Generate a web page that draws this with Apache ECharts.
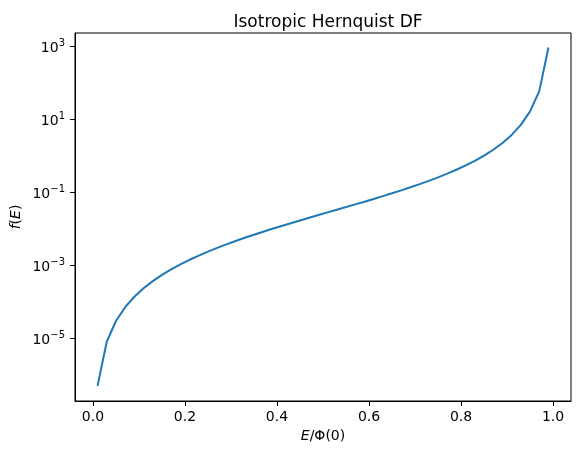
<!DOCTYPE html>
<html>
<head>
<meta charset="utf-8">
<script src="https://cdn.jsdelivr.net/npm/echarts@6/dist/echarts.min.js"></script>
<style>
  html, body { margin: 0; padding: 0; background: #fff; }
  #chart { width: 580px; height: 457px; }
</style>
</head>
<body>
<div id="chart"></div>
<script>
// E / Phi(0)
const energy = [
  0.01, 0.03, 0.05, 0.07, 0.09, 0.11, 0.13, 0.15, 0.17, 0.19,
  0.21, 0.23, 0.25, 0.27, 0.29, 0.31, 0.33, 0.35, 0.37, 0.39,
  0.41, 0.43, 0.45, 0.47, 0.49, 0.51, 0.53, 0.55, 0.57, 0.59,
  0.61, 0.63, 0.65, 0.67, 0.69, 0.71, 0.73, 0.75, 0.77, 0.79,
  0.81, 0.83, 0.85, 0.87, 0.89, 0.91, 0.93, 0.95, 0.97, 0.99
];
// f(E)
const dfValues = [
  5.0e-7, 8.04e-6, 2.97e-5, 7.10e-5, 1.374e-4, 2.344e-4, 3.68e-4, 5.447e-4, 7.72e-4, 1.057e-3,
  1.41e-3, 1.841e-3, 2.36e-3, 2.982e-3, 3.724e-3, 4.599e-3, 5.63e-3, 6.844e-3, 8.267e-3, 9.93e-3,
  0.01188, 0.01416, 0.01682, 0.01995, 0.02361, 0.02793, 0.03304, 0.03909, 0.04628, 0.05487,
  0.06529, 0.0778, 0.09318, 0.1121, 0.1358, 0.1656, 0.2039, 0.2539, 0.3203, 0.4108,
  0.5376, 0.7216, 1.0007, 1.448, 2.22, 3.693, 6.962, 16.2, 58.21, 908.0
];
const xTicks = [0, 0.2, 0.4, 0.6, 0.8, 1.0];
const yTickExponents = [-5, -3, -1, 1, 3];

const font = 'DejaVu Sans';
const yMinExp = -6.716;
const yMaxExp = 3.356;

const chart = echarts.init(document.getElementById('chart'));

const option = {
  animation: false,
  backgroundColor: '#fff',
  title: {
    text: 'Isotropic Hernquist DF',
    left: 323,
    top: 9,
    textAlign: 'center',
    textStyle: { fontFamily: font, fontSize: 17, fontWeight: 'normal', color: '#000' }
  },
  grid: {
    left: 75, right: 9, top: 33, bottom: 56,
    show: true, borderColor: '#000', borderWidth: 1
  },
  xAxis: {
    type: 'value',
    min: -0.039,
    max: 1.039,
    splitLine: { show: false },
    axisLine: { onZero: false, lineStyle: { color: '#000', width: 1 } },
    axisTick: { customValues: xTicks, length: 5, lineStyle: { color: '#000' } },
    axisLabel: {
      customValues: xTicks,
      margin: 9,
      fontFamily: font, fontSize: 14, color: '#000',
      formatter: v => v.toFixed(1)
    },
    name: '{i|E}/Φ(0)',
    nameLocation: 'middle',
    nameGap: 20,
    nameTextStyle: {
      fontFamily: font, fontSize: 14, color: '#000',
      rich: { i: { fontFamily: font, fontSize: 14, fontStyle: 'italic', color: '#000' } }
    }
  },
  yAxis: [
    {
      // data axis (log scale)
      type: 'log',
      logBase: 10,
      min: Math.pow(10, yMinExp),
      max: Math.pow(10, yMaxExp),
      splitLine: { show: false },
      axisLine: { show: true, onZero: false, lineStyle: { color: '#000', width: 1 } },
      axisTick: { show: false },
      axisLabel: { show: false },
      name: '{i|f}({i|E})',
      nameLocation: 'middle',
      nameRotate: 90,
      nameGap: 52,
      nameTextStyle: {
        fontFamily: font, fontSize: 14, color: '#000',
        rich: { i: { fontFamily: font, fontSize: 14, fontStyle: 'italic', color: '#000' } }
      }
    },
    {
      // decade ticks in exponent space
      type: 'value',
      position: 'left',
      min: yMinExp,
      max: yMaxExp,
      splitLine: { show: false },
      axisLine: { show: false, onZero: false },
      axisTick: { customValues: yTickExponents, length: 5, lineStyle: { color: '#000' } },
      axisLabel: {
        customValues: yTickExponents,
        margin: 10,
        formatter: v => {
          const e = Math.round(v);
          return '{b|10}{s|' + (e < 0 ? '\u2212' + Math.abs(e) : String(e)) + '}';
        },
        rich: {
          b: { fontFamily: font, fontSize: 14, color: '#000', padding: [4, 0, 0, 0] },
          s: { fontFamily: font, fontSize: 10, color: '#000', padding: [0, 0, 6, 0] }
        }
      }
    }
  ],
  series: [
    {
      type: 'line',
      yAxisIndex: 0,
      data: energy.map((x, i) => [x, dfValues[i]]),
      showSymbol: false,
      lineStyle: { color: '#1f77b4', width: 2 }
    }
  ]
};

chart.setOption(option);
</script>
</body>
</html>
